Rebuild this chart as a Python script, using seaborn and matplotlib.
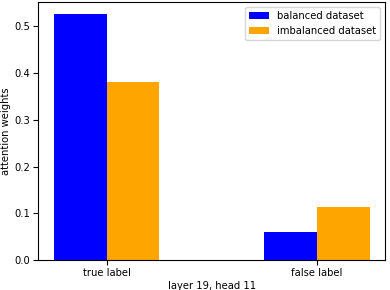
import pandas
import seaborn as sns
import matplotlib
matplotlib.use("Agg")
from matplotlib import pyplot as plt

labels = ["true label", "false label"]
datasets = ["balanced dataset", "imbalanced dataset"]
balanced = [0.526, 0.061]
imbalanced = [0.382, 0.113]

df = pandas.DataFrame({
    "label": labels * 2,
    "dataset": [datasets[0]] * 2 + [datasets[1]] * 2,
    "weight": balanced + imbalanced,
})

plt.rcParams["font.size"] = 7.2
f, ax = plt.subplots(figsize=(3.9, 2.9), dpi=100)
sns.barplot(data=df, x="label", y="weight", hue="dataset", order=labels,
            hue_order=datasets, palette=["blue", "orange"], width=0.5,
            saturation=1, errorbar=None, ax=ax)
ax.set_xlim(-0.325, 1.325)
ax.set_ylim(0, 0.5523)
ax.tick_params(pad=2.5)
ax.set_xlabel("layer 19, head 11", labelpad=1.5)
ax.set_ylabel("attention weights", labelpad=2)
ax.legend(loc="upper right", fontsize=7.2)
plt.subplots_adjust(left=0.098, right=0.988, top=0.993, bottom=0.103)
f.savefig("out.png", dpi=100)
